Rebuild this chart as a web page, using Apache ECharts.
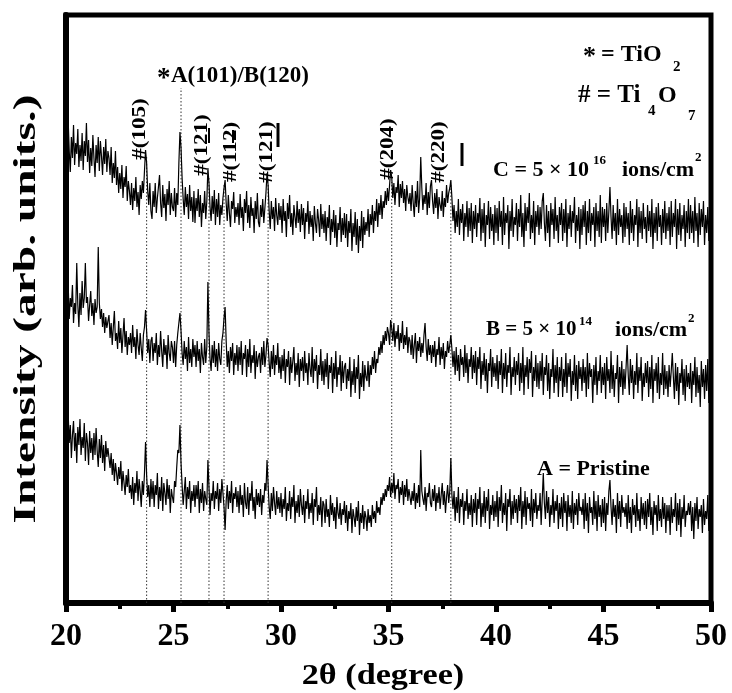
<!DOCTYPE html>
<html><head><meta charset="utf-8">
<script src="https://cdn.jsdelivr.net/npm/echarts@6/dist/echarts.min.js"></script>
<style>html,body{margin:0;padding:0;background:#fff}#c{width:732px;height:693px}</style>
</head><body><div id="c"></div>
<script>
// 2-theta sampling grid of the scans (one row below = one degree, 20 samples)
const xStart = 20, xStep = 0.05;
// Intensity readings (arbitrary units incl. vertical offset)
const sampleC = [
470,440,483,452,431,466,445,478,438,460,449,474,436,458,442,470,433,462,447,480,
441,463,430,455,437,468,445,426,458,440,466,432,462,447,428,456,439,464,431,452,
445,428,456,420,440,425,452,418,436,410,430,414,438,405,426,416,437,402,422,412,
398,420,393,415,402,426,396,411,388,418,404,422,410,432,453,440,412,398,420,392,
384,412,396,420,390,405,416,428,400,386,418,395,409,382,414,398,422,388,410,396,
392,415,386,410,398,440,471,455,425,404,388,416,396,409,384,418,392,406,381,412,
380,405,392,414,386,408,376,400,390,412,384,402,435,420,396,382,407,389,413,378,
404,386,410,378,398,388,405,415,423,400,382,408,390,376,402,394,411,380,396,386,
400,378,409,385,396,372,404,390,412,380,398,375,406,387,395,370,402,384,410,381,
376,398,386,404,380,395,410,430,418,392,374,402,384,396,372,405,388,378,400,383,
397,370,404,382,392,366,400,384,408,376,390,368,398,386,375,402,380,394,371,399,
378,395,364,390,381,402,369,392,376,388,362,397,380,370,394,383,366,399,374,389,
370,392,362,386,375,398,358,384,371,393,365,388,356,380,373,396,361,385,368,390,
365,389,356,382,370,394,352,380,366,391,358,384,350,377,362,392,355,386,368,381,
372,394,366,389,378,398,370,392,382,404,376,400,388,408,384,402,395,412,398,415,
402,418,433,426,405,420,398,416,410,428,396,419,405,422,400,414,392,418,406,399,
410,392,418,400,386,412,396,422,390,405,446,415,393,408,399,420,388,411,395,417,
423,402,389,410,395,414,384,406,398,392,412,386,405,396,418,400,410,415,423,405,
382,398,370,392,376,404,368,394,380,399,362,390,376,402,366,395,372,400,360,392,
374,398,366,390,380,405,362,394,370,400,356,388,378,402,364,396,372,389,358,398,
370,395,362,402,376,392,358,406,368,390,380,398,354,392,372,404,366,386,378,400,
362,394,376,408,366,390,356,400,372,396,380,410,364,388,370,402,358,392,376,398,
368,396,374,402,410,380,362,398,370,392,356,400,378,394,364,406,372,388,360,396,
378,400,362,394,370,404,356,390,374,398,366,392,380,406,360,388,372,396,354,394,
368,398,376,402,358,392,370,404,362,390,378,396,356,400,372,392,366,408,360,396,
376,394,362,400,370,392,416,386,364,398,372,390,358,404,368,394,376,388,360,400,
366,396,374,390,358,402,370,394,362,388,378,404,356,396,370,392,364,400,374,386,
360,398,372,392,366,404,354,390,370,396,362,400,376,388,358,394,370,402,364,390,
372,396,358,402,366,390,376,404,354,394,368,400,362,388,374,398,356,392,370,404,
364,398,370,392,360,406,372,390,356,400,368,394,376,402,358,388,370,396,362,398,
384];
const sampleB = [
312,290,320,284,305,296,318,280,300,289,340,298,276,310,288,322,295,305,340,300,
306,282,298,312,287,300,278,304,290,296,356,300,284,294,276,290,270,286,275,282,
288,265,280,258,276,292,262,270,254,282,260,275,250,268,285,256,272,248,266,258,
270,250,278,256,266,244,274,258,248,270,255,242,268,276,293,272,250,264,240,262,
266,242,260,250,270,238,258,246,272,252,236,264,248,258,234,268,250,242,262,256,
240,262,236,258,270,280,290,272,250,238,262,244,256,232,266,240,254,236,264,246,
258,236,262,242,254,230,260,246,238,264,240,256,321,270,244,232,258,240,262,236,
254,232,260,244,238,262,270,285,296,262,236,252,230,256,242,260,228,250,238,258,
232,256,238,262,228,250,244,258,226,254,236,264,230,248,240,258,224,252,236,246,
250,230,256,238,262,236,248,265,258,240,226,252,234,258,228,248,238,260,230,246,
224,248,232,254,220,244,236,252,218,246,230,242,256,222,240,228,250,216,244,232,
246,222,252,230,240,218,250,234,226,256,220,244,232,248,214,238,228,254,222,242,
218,244,226,250,214,238,230,246,210,240,224,252,216,236,228,248,212,242,220,236,
240,214,234,222,246,206,232,218,244,210,236,224,248,204,230,216,242,212,238,226,
222,242,216,238,228,246,234,252,230,244,240,256,248,262,250,268,258,272,262,276,
270,258,283,275,262,280,256,272,264,278,252,270,260,282,254,268,258,276,250,266,
262,248,268,244,258,270,240,262,252,266,246,260,250,268,280,256,242,264,248,258,
240,258,246,262,236,254,248,266,238,256,244,260,234,252,246,262,250,258,268,254,
236,252,228,256,232,248,222,254,238,246,226,258,230,250,220,244,236,256,224,248,
230,252,218,246,234,256,214,242,228,250,222,244,210,240,232,254,216,246,226,240,
222,248,214,242,228,254,210,240,224,250,216,238,230,256,208,236,226,246,218,242,
228,250,212,240,220,256,208,238,226,246,214,244,230,252,206,236,222,248,216,240,
214,242,222,250,208,236,228,248,212,240,204,234,226,254,210,238,220,246,206,236,
222,246,206,234,216,250,210,240,226,244,202,232,218,248,212,238,204,242,224,236,
212,244,220,236,206,250,214,240,226,234,200,238,218,246,208,232,222,248,210,236,
218,240,204,246,222,234,210,252,214,238,206,230,224,248,200,236,216,242,208,234,
214,236,258,228,208,244,220,238,204,232,218,250,210,236,222,246,202,230,216,240,
220,242,206,236,214,248,200,234,222,240,210,246,204,230,218,250,208,238,214,232,
206,238,216,232,250,226,204,240,212,236,198,230,220,244,208,234,202,238,216,230,
214,240,200,232,218,246,206,236,210,228,196,242,216,234,204,238,212,244,200,230,
222];
const sampleA = [
172,150,190,160,178,145,168,182,152,170,140,176,158,184,148,166,155,180,142,170,
160,138,172,150,165,143,170,148,175,152,136,164,145,168,140,158,132,162,146,155,
156,135,150,128,144,122,140,130,118,136,124,142,112,132,120,108,128,116,134,110,
118,104,126,98,120,110,132,102,124,112,96,122,108,130,161,128,106,118,96,124,
104,122,96,118,108,130,94,116,102,126,92,120,110,98,124,104,118,90,114,106,
100,122,116,136,153,150,178,140,118,98,112,126,94,116,104,122,90,112,102,118,
96,118,104,122,90,114,100,120,92,112,104,98,143,116,88,110,102,122,94,112,
104,120,92,114,100,124,110,96,73,102,118,94,112,100,122,90,110,104,116,96,
112,90,118,98,108,86,120,100,94,116,88,110,102,122,92,106,84,114,98,110,
96,114,88,108,100,120,112,143,118,96,84,110,92,116,100,88,112,94,106,90,
110,86,104,94,116,82,100,92,112,84,106,96,118,80,102,90,108,86,114,98,
88,108,80,102,94,114,84,100,90,110,78,104,96,116,82,98,88,106,76,102,
98,80,104,86,94,76,108,88,100,82,96,74,106,90,84,100,78,94,88,102,
80,98,72,92,84,100,70,94,86,76,96,82,102,68,90,80,98,74,92,86,
72,94,80,88,76,98,84,92,80,102,90,96,88,106,98,110,102,114,106,118,
112,126,106,120,110,130,104,118,114,124,100,116,108,122,98,118,106,124,102,114,
116,98,112,102,120,94,110,100,118,96,153,112,104,98,116,92,110,106,120,100,
96,114,102,118,92,110,100,116,94,108,120,98,112,90,106,118,100,112,145,108,
94,112,82,106,90,116,80,104,96,110,78,102,92,114,84,100,88,108,76,104,
90,110,78,104,94,116,76,100,86,112,80,106,92,114,74,98,88,108,82,102,
86,112,76,106,92,118,80,100,88,110,72,104,96,114,78,102,84,108,90,104,
80,108,92,116,74,102,86,112,78,106,94,100,82,114,76,104,90,110,84,98,
92,110,78,104,130,100,84,112,90,106,76,98,88,114,80,102,92,108,74,100,
84,106,76,110,90,102,72,108,86,98,80,112,74,100,88,104,78,110,92,96,
88,104,74,110,82,100,70,106,90,96,78,112,84,102,72,108,86,98,76,104,
80,106,72,100,88,112,123,96,78,104,86,98,70,110,84,102,76,108,90,96,
86,100,74,108,80,96,70,104,88,98,76,110,82,94,72,106,84,100,78,102,
74,104,86,110,78,96,68,102,88,98,72,108,82,94,76,106,84,100,70,98,
82,98,68,106,80,94,86,110,72,100,78,104,66,96,84,108,76,92,88,100,
88,102,72,96,64,100,82,106,74,94,86,98,70,104,78,92,84,108,72,96,
90];
// reflection positions (dotted guide lines) and the height they reach
const peakPositions = [23.75, 25.35, 26.65, 27.35, 29.4, 35.15, 37.9];
const peakLineTops = [448, 515, 425, 418, 418, 421, 418];
const peakLabels = ['#(105)', '#(121)', '#(112)', '#(121)', '#(204)', '#(220)'];
const xMin = 20, xMax = 50, xInterval = 5;

function toPairs(arr) { return arr.map((v, i) => [+(xStart + i * xStep).toFixed(2), v]); }

const F = '"Liberation Serif","Times New Roman",serif';
const chart = echarts.init(document.getElementById('c'), null, { renderer: 'canvas' });

const series = [];
[sampleC, sampleB, sampleA].forEach(s => series.push({
  type: 'line', data: toPairs(s), showSymbol: false, symbol: 'none', sampling: null,
  lineStyle: { color: '#000', width: 1.2 }, z: 3, silent: true
}));
peakPositions.forEach((p, i) => series.push({
  type: 'line', data: [[p, 0], [p, peakLineTops[i]]], symbol: 'none', showSymbol: false,
  lineStyle: { color: '#333', width: 1, type: [1.5, 2] }, z: 2, silent: true
}));

function T(text, x, y, size, extra) {
  return Object.assign({ type: 'text', x: x, y: y, z: 10, silent: true,
    style: { text: text, font: 'bold ' + size + 'px ' + F, fill: '#000', align: 'left', verticalAlign: 'middle' } }, extra || {});
}
function R(text, x, y, size, sx) {
  return { type: 'text', x: x, y: y, rotation: Math.PI / 2, scaleX: sx, z: 10, silent: true,
    style: { text: text, font: 'bold ' + size + 'px ' + F, fill: '#000', align: 'center', verticalAlign: 'middle' } };
}
function Bar(x, y1, y2, w) {
  return { type: 'line', z: 10, silent: true, shape: { x1: x, y1: y1, x2: x, y2: y2 }, style: { stroke: '#000', lineWidth: w } };
}

const graphic = [
  T('*', 157, 79, 27), T('A(101)/B(120)', 171, 76, 23),
  T('*', 583, 57, 26), T('= TiO', 601, 55, 24), T('2', 673, 67, 15),
  T('# = Ti', 578, 96, 25), T('4', 648, 111, 15), T('O', 658, 96, 24), T('7', 688, 116, 15),
  T('C = 5 \u00d7 10', 493, 170, 22), T('16', 593, 161, 13), T('ions/cm', 622, 170, 22), T('2', 695, 158, 13),
  T('B = 5 \u00d7 10', 486, 330, 21), T('14', 579, 322, 13), T('ions/cm', 615, 330, 22), T('2', 688, 319, 13),
  T('A = Pristine', 537, 469, 22),
  R(peakLabels[0], 140, 129, 18, 1.28),
  R(peakLabels[1], 202, 145, 18, 1.28),
  R(peakLabels[2], 231, 152, 18, 1.28),
  R(peakLabels[3], 267, 152, 18, 1.28),
  R(peakLabels[4], 388, 149, 18, 1.28),
  R(peakLabels[5], 439, 152, 18, 1.28),
  Bar(209, 128, 143, 2), Bar(233, 130, 143, 2), Bar(278, 123, 147, 3), Bar(462, 143, 166, 3),
  R('Intensity (arb. units.)', 27, 309, 32, 1.48),
  { type: 'text', x: 383, y: 676, scaleX: 1.14, z: 10, silent: true,
    style: { text: '2\u03b8 (degree)', font: 'bold 30px ' + F, fill: '#000', align: 'center', verticalAlign: 'middle' } }
];

chart.setOption({
  animation: false,
  backgroundColor: '#fff',
  grid: { left: 66, right: 21, top: 15, bottom: 90, show: true, borderColor: '#000', borderWidth: 5, backgroundColor: 'transparent' },
  xAxis: {
    type: 'value', min: xMin, max: xMax, interval: xInterval,
    axisLine: { show: true, lineStyle: { color: '#000', width: 6 } },
    axisTick: { show: true, inside: false, length: 9, lineStyle: { color: '#000', width: 5 } },
    minorTick: { show: true, splitNumber: 2, length: 6, lineStyle: { color: '#000', width: 4 } },
    axisLabel: { show: true, margin: 18, fontSize: 32, fontWeight: 'bold', fontFamily: F, color: '#000' },
    splitLine: { show: false }
  },
  yAxis: {
    type: 'value', min: 0, max: 588,
    axisLine: { show: true, lineStyle: { color: '#000', width: 6 } },
    axisTick: { show: false }, axisLabel: { show: false }, splitLine: { show: false }
  },
  series: series,
  graphic: graphic
});
</script>
</body></html>
